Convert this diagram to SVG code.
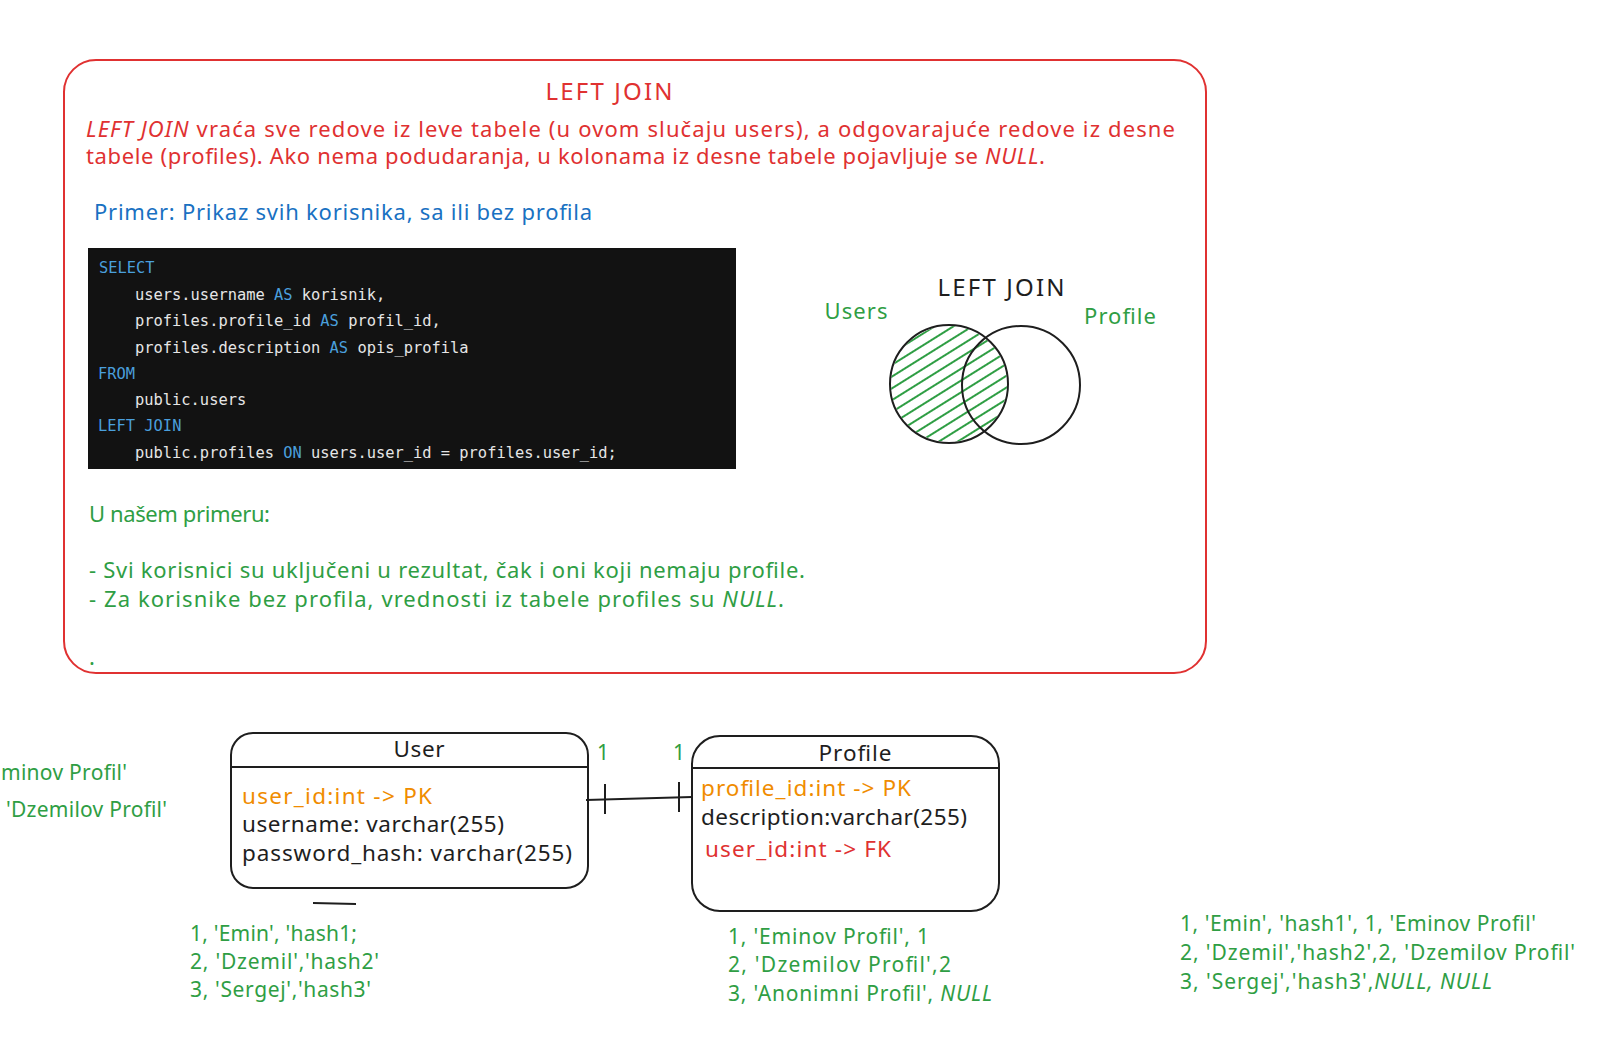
<svg xmlns="http://www.w3.org/2000/svg" width="1600" height="1052" viewBox="0 0 1600 1052">
<style>
.hand{font-family:"Noto Sans","Liberation Sans",sans-serif;font-size:22px}
.tbl{font-size:22.5px}
.dat{font-size:21px}
.ttl{font-size:24px}
.red{fill:#e03131}
.green{fill:#2f9e44}
.blue{fill:#1971c2}
.orange{fill:#f08c00}
.ink{fill:#1e1e1e}
.code{font-family:"DejaVu Sans Mono","Liberation Mono",monospace;font-size:15.4px;fill:#e6e6e6}
.kw{fill:#4a9fdc}
.box{fill:none;stroke:#1e1e1e;stroke-width:2}
.line{stroke:#1e1e1e;stroke-width:2;fill:none}
</style>
<defs>
<pattern id="hatch" patternUnits="userSpaceOnUse" width="10" height="10" patternTransform="rotate(-32)">
<line x1="0" y1="2" x2="10" y2="2" stroke="#2f9e44" stroke-width="2"/>
</pattern>
</defs>
<rect width="1600" height="1052" fill="#ffffff"/>

<g id="note-box">
<rect x="64" y="60" width="1142" height="613" rx="32" fill="none" stroke="#e03131" stroke-width="2"/>
<text class="hand ttl red" x="609" y="100" text-anchor="middle" textLength="127">LEFT JOIN</text>
<text class="hand red" x="86" y="137" textLength="1089"><tspan font-style="italic">LEFT JOIN</tspan> vraća sve redove iz leve tabele (u ovom slučaju users), a odgovarajuće redove iz desne</text>
<text class="hand red" x="86" y="164" textLength="959">tabele (profiles). Ako nema podudaranja, u kolonama iz desne tabele pojavljuje se <tspan font-style="italic">NULL</tspan>.</text>
<text class="hand blue" x="94" y="220" textLength="498">Primer: Prikaz svih korisnika, sa ili bez profila</text>
<text class="hand green" x="89" y="522" textLength="181">U našem primeru:</text>
<text class="hand green" x="89" y="578" textLength="716">- Svi korisnici su uključeni u rezultat, čak i oni koji nemaju profile.</text>
<text class="hand green" x="89" y="607" textLength="695">- Za korisnike bez profila, vrednosti iz tabele profiles su <tspan font-style="italic">NULL</tspan>.</text>
<text class="hand green" x="89" y="665">.</text>
</g>

<g id="code-block">
<rect x="88" y="248" width="648" height="221" fill="#121212"/>
<text class="code" x="99" y="273"><tspan class="kw">SELECT</tspan></text>
<text class="code" x="135" y="300">users.username <tspan class="kw">AS</tspan> korisnik,</text>
<text class="code" x="135" y="326">profiles.profile_id <tspan class="kw">AS</tspan> profil_id,</text>
<text class="code" x="135" y="353">profiles.description <tspan class="kw">AS</tspan> opis_profila</text>
<text class="code" x="98" y="379"><tspan class="kw">FROM</tspan></text>
<text class="code" x="135" y="405">public.users</text>
<text class="code" x="98" y="431"><tspan class="kw">LEFT JOIN</tspan></text>
<text class="code" x="135" y="458">public.profiles <tspan class="kw">ON</tspan> users.user_id = profiles.user_id;</text>
</g>

<g id="venn">
<text class="hand ttl ink" x="1001" y="296" text-anchor="middle" textLength="127">LEFT JOIN</text>
<text class="hand green" x="856" y="319" text-anchor="middle" textLength="63">Users</text>
<text class="hand green" x="1120" y="324" text-anchor="middle" textLength="72">Profile</text>
<circle cx="949" cy="384" r="58" fill="url(#hatch)"/>
<circle cx="949" cy="384" r="59" class="box"/>
<circle cx="1021" cy="385" r="59" class="box"/>
</g>

<g id="user-table">
<rect x="231" y="733" width="357" height="155" rx="22" class="box"/>
<line x1="231" y1="767" x2="588" y2="767" class="line"/>
<text class="hand tbl ink" x="419" y="757" text-anchor="middle" textLength="51">User</text>
<text class="hand tbl orange" x="242" y="804" textLength="190">user_id:int -&gt; PK</text>
<text class="hand tbl ink" x="242" y="832" textLength="262">username: varchar(255)</text>
<text class="hand tbl ink" x="242" y="861" textLength="330">password_hash: varchar(255)</text>
<line x1="313" y1="903" x2="356" y2="904" class="line"/>
</g>

<g id="profile-table">
<rect x="692" y="736" width="307" height="175" rx="28" class="box"/>
<line x1="692" y1="768" x2="999" y2="768" class="line"/>
<text class="hand tbl ink" x="855" y="761" text-anchor="middle" textLength="73">Profile</text>
<text class="hand tbl orange" x="701" y="796" textLength="210">profile_id:int -&gt; PK</text>
<text class="hand tbl ink" x="701" y="825" textLength="266">description:varchar(255)</text>
<text class="hand tbl red" x="705" y="857" textLength="186">user_id:int -&gt; FK</text>
</g>

<g id="connectors">
<line x1="586" y1="800" x2="692" y2="797" class="line"/>
<line x1="605" y1="784" x2="605" y2="814" class="line"/>
<line x1="679" y1="782" x2="679" y2="812" class="line"/>
<text class="hand dat green" x="603" y="760" text-anchor="middle">1</text>
<text class="hand dat green" x="679" y="760" text-anchor="middle">1</text>
</g>

<g id="data-left">
<text class="hand dat green" x="1" y="780" textLength="126">minov Profil'</text>
<text class="hand dat green" x="6" y="817" textLength="161">'Dzemilov Profil'</text>
</g>

<g id="user-data">
<text class="hand dat green" x="190" y="941" textLength="167">1, 'Emin', 'hash1;</text>
<text class="hand dat green" x="190" y="969" textLength="189">2, 'Dzemil','hash2'</text>
<text class="hand dat green" x="190" y="997" textLength="181">3, 'Sergej','hash3'</text>
</g>

<g id="profile-data">
<text class="hand dat green" x="728" y="944" textLength="201">1, 'Eminov Profil', 1</text>
<text class="hand dat green" x="728" y="972" textLength="223">2, 'Dzemilov Profil',2</text>
<text class="hand dat green" x="728" y="1001" textLength="264">3, 'Anonimni Profil', <tspan font-style="italic">NULL</tspan></text>
</g>

<g id="result-data">
<text class="hand dat green" x="1180" y="931" textLength="356">1, 'Emin', 'hash1', 1, 'Eminov Profil'</text>
<text class="hand dat green" x="1180" y="960" textLength="395">2, 'Dzemil','hash2',2, 'Dzemilov Profil'</text>
<text class="hand dat green" x="1180" y="989" textLength="312">3, 'Sergej','hash3',<tspan font-style="italic">NULL, NULL</tspan></text>
</g>
</svg>
